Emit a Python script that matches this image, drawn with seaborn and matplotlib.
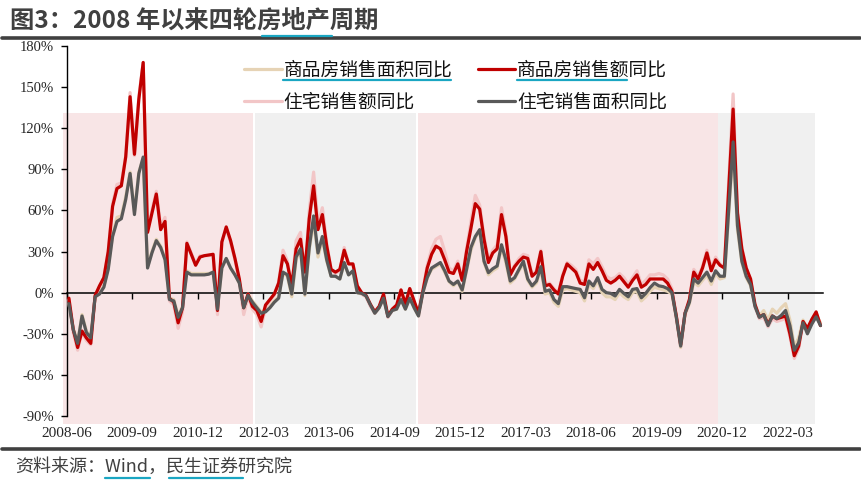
import numpy as np
import pandas as pd
import matplotlib.pyplot as plt
from matplotlib.lines import Line2D
import seaborn as sns

sns.set_style("white")
plt.rcParams['font.family'] = ['Noto Sans CJK SC', 'DejaVu Sans']
plt.rcParams['axes.unicode_minus'] = False

# ---------------- data (monthly YoY %, 2008-06 .. 2022-10) ----------------
# 商品房销售额同比
sales_amt = [-4, -27, -40, -28, -33, -37, -2, 5, 11, 30,
             63, 76, 78, 99, 143, 101, 141, 168, 44, 58,
             72, 46, 52, -4, -7, -22, -11, 36, 28, 20,
             26, 27, 27.5, 28, -13, 37, 48, 38, 25, 10,
             -11, -1, -10, -13, -21, -9, -5, -1, 7, 27,
             21, 5, 32, 39, 15, 54, 78, 46, 57, 34,
             17, 15, 17, 31, 21, 21, 5, 0, -2, -8.5,
             -14, -10, -1, -17, -12, -9, 2, -8, 3, -6,
             -15, 1, 18, 28, 34, 32, 24, 15, 14, 21,
             9, 30, 47, 65, 61, 39, 22, 29, 32, 57,
             41, 13, 19, 23, 26, 25, 12, 15, 30, 5,
             6, 2, -1, 12, 21, 18, 15, 7, 6, 21,
             17, 22, 16, 9, 7, 9, 12, 8, 4, 9,
             13, 4, 6, 10, 10, 10, 10, 7, 1, -17,
             -38, -15, -5, 15, 10, 18, 29, 16, 24, 20,
             18, 76, 134, 58, 32, 18, 10, -8.5, -17.6, -16,
             -23, -17, -19, -18, -17, -30, -46, -39, -21, -26,
             -19.5, -14, -24]

# 住宅销售面积同比
res_area = [-8, -27, -37, -17, -29, -33, -3, -1, 4, 17,
            41, 52, 54, 68, 87, 57, 87, 99, 18, 29,
            38, 33, 24, -5, -6, -18, -11, 15, 13, 13,
            13, 13, 13.5, 15, -12, 18, 25, 18, 13, 7,
            -11, -2, -7, -11, -15, -14, -11, -7, -4, 15,
            13, -1, 26, 32, -1, 33, 56, 29, 41, 24,
            12, 12, 10, 22, 13, 16, 0, -0.5, -2.4, -9,
            -15, -11, -4, -17.5, -13, -12, -5, -12, -4, -11,
            -17, 0, 11, 18, 20, 22, 16, 8.5, 6, 8.5,
            2, 17, 33, 41, 46, 23, 14.6, 17.5, 19.5, 35,
            24, 8.5, 11, 17, 23, 10, 5, 8.5, 19, 1,
            2, -5, -8, 4.4, 4.4, 3.7, 3, 2.4, -3.7, 8.5,
            5, 11, 2.4, 0, -0.5, -2.4, 2.4, -0.5, -3, 2.4,
            3, -3.7, -0.5, 3.7, 7, 5, 4.4, 3, 0, -18,
            -39, -15, -7, 10, 7, 11, 15, 8.5, 16, 12,
            12, 61, 110, 49, 23, 12, 6, -10, -18, -16,
            -24, -17, -19, -16.6, -13, -24, -42, -36.6, -22, -30,
            -23, -17.6, -24]

# 住宅销售额同比
res_amt = [-5, -29, -42, -29, -35, -38, -3, 4, 11, 31,
           65, 79, 80, 100, 146, 100, 143, 168, 46, 60,
           74, 48, 55, -6, -9, -26, -14, 37, 29, 21,
           27, 27, 27, 28, -16, 37, 47, 37, 24, 8,
           -16, -3, -12, -16, -25, -11, -6, -2, 8, 31,
           23, 4, 38, 44, 14, 60, 88, 50, 62, 36,
           17, 14, 16, 33, 21, 20, 4, -1, -3, -10,
           -15, -11, -2, -18, -13, -10, 2, -9, 3, -7,
           -16, 2, 20, 32, 39, 41, 30, 18, 16, 23,
           10, 32, 52, 71, 64, 41, 24, 31, 35, 62,
           44, 14, 20, 25, 28, 27, 13, 16, 31, 6,
           7, 3, 0, 13, 22, 20, 17, 9, 8, 24,
           21, 25, 19, 12, 10, 11, 14, 11, 6, 11,
           16, 6, 9, 13, 13, 14, 13, 10, 3, -17,
           -39, -15, -5, 17, 12, 19, 31, 18, 26, 21,
           19, 82, 145, 60, 33, 18, 9, -10, -19, -18,
           -25, -19, -21, -20, -19, -32, -48, -41, -22, -27,
           -20, -15, -24]

# 商品房销售面积同比
sales_area = [-8, -26, -36, -16, -28, -32, -3, 0, 5, 19,
              42, 55, 56, 70, 88, 59, 88, 98, 19, 30,
              39, 34, 25, -4, -5, -17, -10, 16, 14, 14,
              14, 14, 14, 15, -10, 18, 25, 18, 13, 7,
              -10, -1, -6, -10, -14, -13, -10, -6, -3, 14,
              12, -3, 24, 31, -2, 31, 52, 26, 39, 23,
              12, 12, 10, 21, 13, 15, 0, -1, -3, -9,
              -15, -11, -4, -17, -13, -12, -5, -12, -4, -11,
              -17, 0, 11, 17, 19, 21, 15, 8, 5, 8,
              1, 16, 31, 40, 45, 22, 13, 16, 18, 33,
              22, 7, 10, 16, 21, 9, 4, 7, 17, -1,
              0, -7, -10, 2, 3, 2, 1, 0, -6, 6,
              3, 9, 0, -3, -3, -5, 0, -3, -5, 0,
              1, -6, -3, 1, 4, 3, 2, 1, -1, -18,
              -40, -16, -8, 8, 5, 9, 13, 6, 14, 10,
              11, 58, 104, 46, 22, 11, 5, -9, -17, -13,
              -20, -12, -15, -11, -8, -20, -39, -33, -20, -27,
              -21, -16, -22]

months = pd.date_range('2008-06-01', periods=len(sales_amt), freq='MS')
tick_labels = ['2008-06', '2009-09', '2010-12', '2012-03', '2013-06', '2014-09',
               '2015-12', '2017-03', '2018-06', '2019-09', '2020-12', '2022-03']
ytick_vals = [-90, -60, -30, 0, 30, 60, 90, 120, 150, 180]

# four cycles (start, end in month index), shaded alternately
cycles = [(-0.8, 42.7, '#F8E5E6'), (43.1, 79.9, '#F0F0F0'),
          (80.4, 149.1, '#F8E5E6'), (149.1, 171.3, '#F0F0F0')]

df = pd.DataFrame({'x': np.arange(len(months)) + 0.5,
                   '商品房销售面积同比': sales_area,
                   '住宅销售额同比': res_amt,
                   '商品房销售额同比': sales_amt,
                   '住宅销售面积同比': res_area})

colors = {'商品房销售面积同比': '#E6D3B5',
          '住宅销售额同比': '#F2C6C7',
          '商品房销售额同比': '#C00000',
          '住宅销售面积同比': '#595959'}

fig = plt.figure(figsize=(8.62, 4.83), dpi=100)
ax = fig.add_axes([0.0774, 0.1387, 0.877, 0.766])

for x0, x1, c in cycles:
    ax.axvspan(x0, x1, ymin=-0.021, ymax=0.8185, color=c, lw=0, zorder=0, clip_on=False)

for i, name in enumerate(['商品房销售面积同比', '住宅销售额同比', '商品房销售额同比', '住宅销售面积同比']):
    sns.lineplot(data=df, x='x', y=name, ax=ax, color=colors[name], lw=2.3,
                 label=name, zorder=3 + i)

ax.set_xlim(0, 173)
ax.set_ylim(-90, 180)
ax.set_xlabel('')
ax.set_ylabel('')

ax.set_yticks(ytick_vals)
ax.set_yticklabels([f'{v}%' for v in ytick_vals], fontfamily='Liberation Serif', fontsize=10.5)
ax.set_xticks(range(0, 166, 15))
ax.set_xticklabels(tick_labels, fontfamily='Liberation Serif', fontsize=11)
ax.tick_params(axis='x', length=0, pad=8)
ax.tick_params(axis='y', direction='out', length=4, width=1, pad=5, left=True, color='black')

for s in ['top', 'right', 'bottom']:
    ax.spines[s].set_visible(False)
ax.spines['left'].set_color('black')
ax.spines['left'].set_linewidth(1)

# zero line with tick marks
zero = ax.secondary_xaxis(1 / 3)
zero.set_xticks(range(0, 166, 15))
zero.tick_params(axis='x', direction='out', length=4, width=1, labelbottom=False, color='black')
zero.spines['bottom'].set_color('black')
zero.spines['bottom'].set_linewidth(1.1)

h, l = ax.get_legend_handles_labels()
leg = ax.legend(h, l, ncol=2, frameon=False, loc='upper left',
                bbox_to_anchor=(0.264, 0.911), bbox_transform=fig.transFigure,
                fontsize=13.5, handlelength=2.0, handletextpad=0.1,
                columnspacing=1.35, labelspacing=0.55, borderpad=0.4)
for t in leg.get_texts():
    t.set_color('#111111')

# title, rules and source
fig.text(0.012, 0.958, '图3：2008 年以来四轮房地产周期', fontsize=17.5,
         fontweight='bold', color='#404040', va='center')
fig.add_artist(Line2D([0.002, 0.998], [0.921, 0.921], color='#404040', lw=2.6))
fig.add_artist(Line2D([0.002, 0.998], [0.0705, 0.0705], color='#404040', lw=2.6))
fig.text(0.017, 0.033, '资料来源：Wind，民生证券研究院', fontsize=13,
         color='#404040', va='center')

# cyan marker underlines as seen in the source document
cyan = '#1AA6C2'
for x0, x1, y in [(262, 332, 35.5), (283, 451, 80), (517, 627, 80),
                  (105, 150, 478), (169, 243, 478)]:
    fig.add_artist(Line2D([x0 / 862, x1 / 862], [1 - y / 483] * 2, color=cyan, lw=1.6))

fig.savefig('out.png', dpi=100)
